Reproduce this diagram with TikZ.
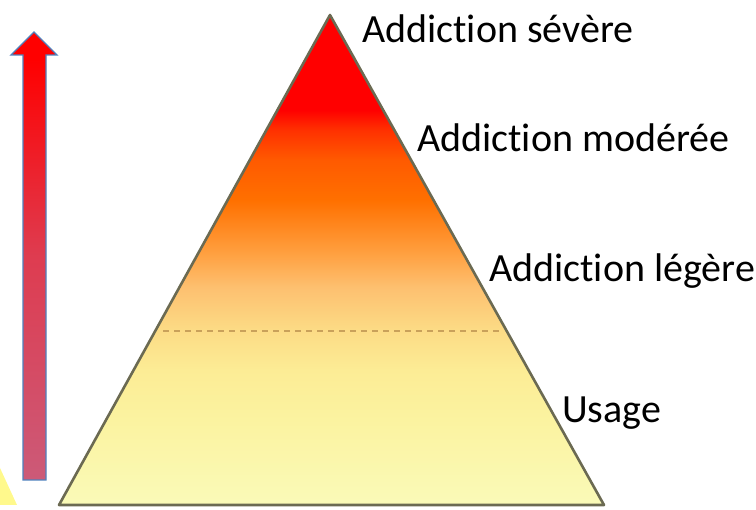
\documentclass[tikz,border=0pt]{standalone}
\usepackage{fontspec}
\setmainfont{Carlito}[Ligatures=NoCommon]
\usetikzlibrary{positioning}
\definecolor{edgegray}{HTML}{6B6A52}
\definecolor{arrowblue}{HTML}{4F81BD}
\definecolor{dashbrown}{HTML}{C9A15A}
\definecolor{pa}{HTML}{FAFAB8}
\definecolor{pb}{HTML}{FBF3A0}
\definecolor{pc}{HTML}{FCEC95}
\definecolor{pd}{HTML}{FCDB85}
\definecolor{pe}{HTML}{FDC070}
\definecolor{pf}{HTML}{FFA040}
\definecolor{pg}{HTML}{FF7000}
\definecolor{ph}{HTML}{FF5A00}
\definecolor{pi}{HTML}{FF3000}
\definecolor{pj}{HTML}{FF0000}
\definecolor{ba}{HTML}{CC5A78}
\definecolor{bb}{HTML}{DE3C50}
\definecolor{bc}{HTML}{FF0000}
\pgfdeclareverticalshading{pyramid}{100bp}{
    color(0bp)=(pa);
    color(25bp)=(pa);
    color(33.7bp)=(pb);
    color(38.8bp)=(pc);
    color(42.9bp)=(pd);
    color(47.2bp)=(pe);
    color(50.7bp)=(pf);
    color(56.1bp)=(pg);
    color(60.2bp)=(ph);
    color(63.3bp)=(pi);
    color(65.3bp)=(pj);
    color(100bp)=(pj)}
\pgfdeclareverticalshading{risebar}{100bp}{
    color(0bp)=(ba);
    color(25bp)=(ba);
    color(50bp)=(bb);
    color(72bp)=(bc);
    color(100bp)=(bc)}
\tikzset{
    level/.style={font=\fontsize{40}{44}\selectfont, anchor=base west, inner sep=0pt},
    pyr/.style={shading=pyramid, draw=edgegray, line width=2.6pt, line join=round},
    sep/.style={draw=dashbrown, line width=1.4pt, dash pattern=on 6pt off 5pt},
    bar/.style={shading=risebar, draw=arrowblue, line width=1.3pt},
}
\begin{document}
\begin{tikzpicture}[x=1pt, y=-1pt]
    \useasboundingbox (0,0) rectangle (756,510);
    % stray yellow piece at the left border
    \fill[yellow!45] (0,468) -- (17,505) -- (0,505) -- cycle;
    % the rising arrow
    \draw[bar] (23,480) -- (23,55) -- (11,55) -- (34,32) -- (57,55) -- (46,55) -- (46,480) -- cycle;
    % pyramid
    \coordinate (top) at (330,15);
    \coordinate (bl) at (59,505);
    \coordinate (br) at (604,505);
    \draw[pyr] (top) -- (br) -- (bl) -- cycle;
    \coordinate (sepl) at (163,331);
    \coordinate (sepr) at (500,331);
    \draw[sep] (sepl) -- (sepr);
    % levels
    \node[level] (severe) at (362,43) {Addiction sévère};
    \node[level] (moderee) at (417,152) {Addiction modérée};
    \node[level] (legere) at (489,282) {Addiction légère};
    \node[level] (usage) at (562,423) {Usage};
\end{tikzpicture}
\end{document}
